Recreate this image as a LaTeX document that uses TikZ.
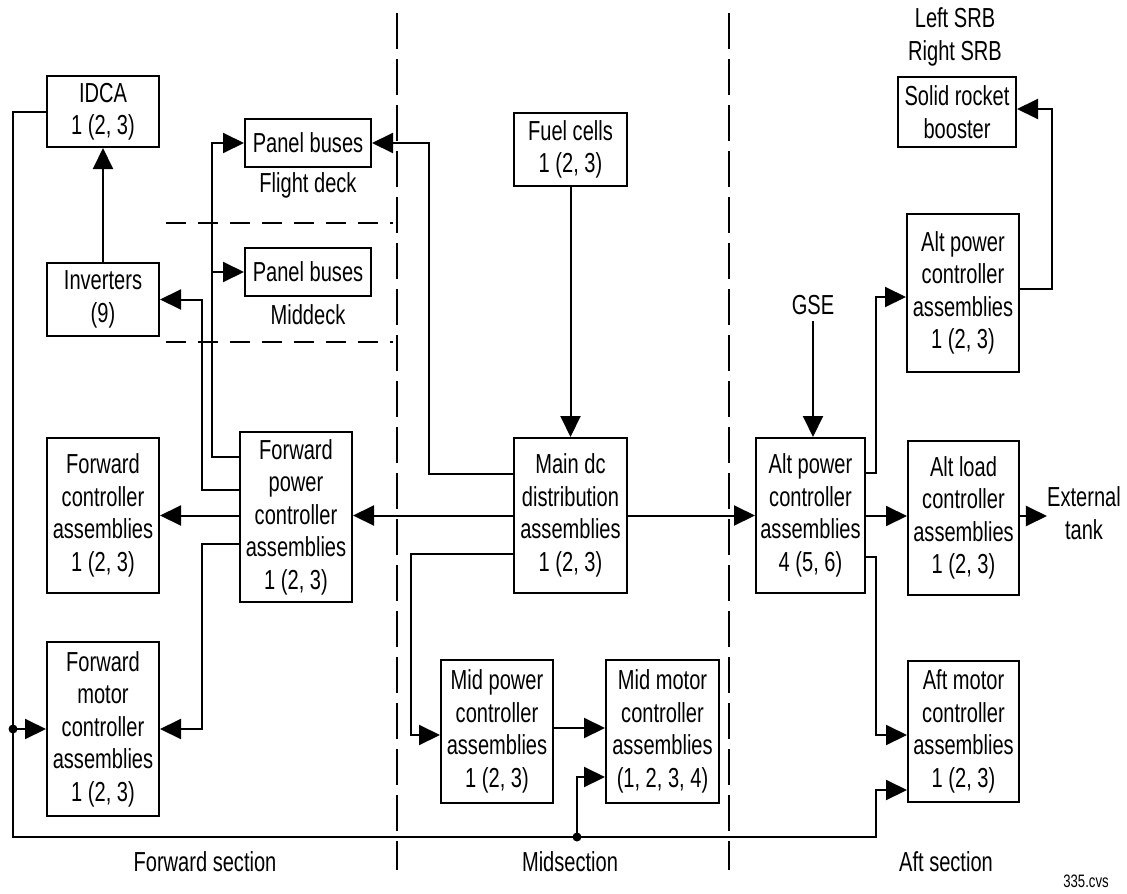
\documentclass[tikz,border=0pt]{standalone}
\usepackage{fontspec}
\setmainfont{Liberation Sans}[FakeStretch=0.73]
\usetikzlibrary{arrows.meta}
\begin{document}
\begin{tikzpicture}[x=1pt,y=-1pt,
  every node/.style={font=\fontsize{27.5}{32.5}\selectfont, inner sep=0pt},
  box/.style={draw, line width=2pt, align=center},
  conn/.style={line width=2pt},
  arr/.style={conn, -{Triangle[length=21pt,width=20pt]}},
  vdash/.style={line width=1.8pt, dash pattern=on 36pt off 10pt},
  hdash/.style={line width=1.8pt, dash pattern=on 20pt off 12pt},
  lbl/.style={align=center}]
\useasboundingbox (0,0) rectangle (1127,894);

% boxes
\node[box, minimum width=112pt, minimum height=71pt] (idca) at (103,111.5) {IDCA\\1 (2, 3)};
\node[box, minimum width=126pt, minimum height=48pt] (pbf) at (308,143) {Panel buses};
\node[box, minimum width=126pt, minimum height=48pt] (pbm) at (308,272) {Panel buses};
\node[box, minimum width=112pt, minimum height=73pt] (inv) at (103,299.5) {Inverters\\(9)};
\node[box, minimum width=112pt, minimum height=155pt] (fca) at (103,515.5) {Forward\\controller\\assemblies\\1 (2, 3)};
\node[box, minimum width=112pt, minimum height=170pt] (fpca) at (296,517) {Forward\\power\\controller\\assemblies\\1 (2, 3)};
\node[box, minimum width=112pt, minimum height=174pt] (fmca) at (103,729) {Forward\\motor\\controller\\assemblies\\1 (2, 3)};
\node[box, minimum width=113pt, minimum height=73pt] (fuel) at (570.5,149.5) {Fuel cells\\1 (2, 3)};
\node[box, minimum width=113pt, minimum height=155pt] (mdc) at (570.5,515.5) {Main dc\\distribution\\assemblies\\1 (2, 3)};
\node[box, minimum width=112pt, minimum height=143pt] (mpca) at (497,731.5) {Mid power\\controller\\assemblies\\1 (2, 3)};
\node[box, minimum width=113pt, minimum height=143pt] (mmca) at (662.5,731.5) {Mid motor\\controller\\assemblies\\(1, 2, 3, 4)};
\node[box, minimum width=109pt, minimum height=155pt] (apca4) at (810.5,515.5) {Alt power\\controller\\assemblies\\4 (5, 6)};
\node[box, minimum width=111pt, minimum height=154pt] (alca) at (963.5,518) {Alt load\\controller\\assemblies\\1 (2, 3)};
\node[box, minimum width=111pt, minimum height=141pt] (amca) at (963.5,731.5) {Aft motor\\controller\\assemblies\\1 (2, 3)};
\node[box, minimum width=112pt, minimum height=158pt] (apca1) at (963,293) {Alt power\\controller\\assemblies\\1 (2, 3)};
\node[box, minimum width=118pt, minimum height=70pt] (srb) at (957,112) {Solid rocket\\booster};

% labels
\node[lbl] (fdeck) at (308,185) {Flight deck};
\node[lbl] (mdeck) at (308,315) {Middeck};
\node[lbl] (fsec) at (205,862) {Forward section};
\node[lbl] (msec) at (570,862) {Midsection};
\node[lbl] (asec) at (946,862) {Aft section};
\node[lbl] (srbl) at (955,37) {Left SRB\\Right SRB};
\node[lbl] (gse) at (813,305) {GSE};
\node[lbl] (et) at (1084,513) {External\\tank};
\node[lbl, font=\fontsize{18}{20}\selectfont] (cvs) at (1086,881) {335.cvs};

% section dividers
\draw[vdash] (397,13) -- (397,870);
\draw[vdash] (729,13) -- (729,870);
\draw[hdash] (166,223) -- (393,223);
\draw[hdash] (166,342) -- (393,342);

% connectors
\draw[arr] (inv.north) -- (idca.south);
\draw[arr] (idca.west) -| (13,837) -| (876,790) -- (amca.west |- 876,790);
\fill (13,729) circle (4.5pt);
\draw[arr] (13,729) -- (fmca.west);
\fill (577,837) circle (4.5pt);
\draw[arr] (577,837) |- (mmca.west |- 0,777);

\draw[arr] (fpca.west |- 0,457) -| (212,143) -- (pbf.west);
\draw[arr] (212,272) -- (pbm.west);
\draw[arr] (fpca.west |- 0,490) -| (202,299.5) -- (inv.east);
\draw[arr] (fpca.west |- 0,515.5) -- (fca.east);
\draw[arr] (fpca.west |- 0,544) -| (202,729) -- (fmca.east);

\draw[arr] (fuel.south) -- (mdc.north);
\draw[arr] (mdc.west |- 0,474) -| (429,143) -- (pbf.east);
\draw[arr] (mdc.west) -- (fpca.east |- mdc.west);
\draw[arr] (mdc.west |- 0,554) -| (411,735) -- (mpca.west |- 0,735);
\draw[arr] (mdc.east) -- (apca4.west |- mdc.east);
\draw[arr] (mpca.east |- 0,728) -- (mmca.west |- 0,728);

\draw[arr] (gse.south) ++(0,6) -- (apca4.north -| gse.south);
\draw[arr] (apca4.east |- 0,473) -| (876,297) -- (apca1.west |- 0,297);
\draw[arr] (apca1.east |- 0,289) -| (1052,109) -- (srb.east |- 0,109);
\draw[arr] (apca4.east |- 0,516) -- (alca.west |- 0,516);
\draw[arr] (alca.east |- 0,516) -- (et.west |- 0,516);
\draw[arr] (apca4.east |- 0,557) -| (876,735) -- (amca.west |- 0,735);
\end{tikzpicture}
\end{document}
